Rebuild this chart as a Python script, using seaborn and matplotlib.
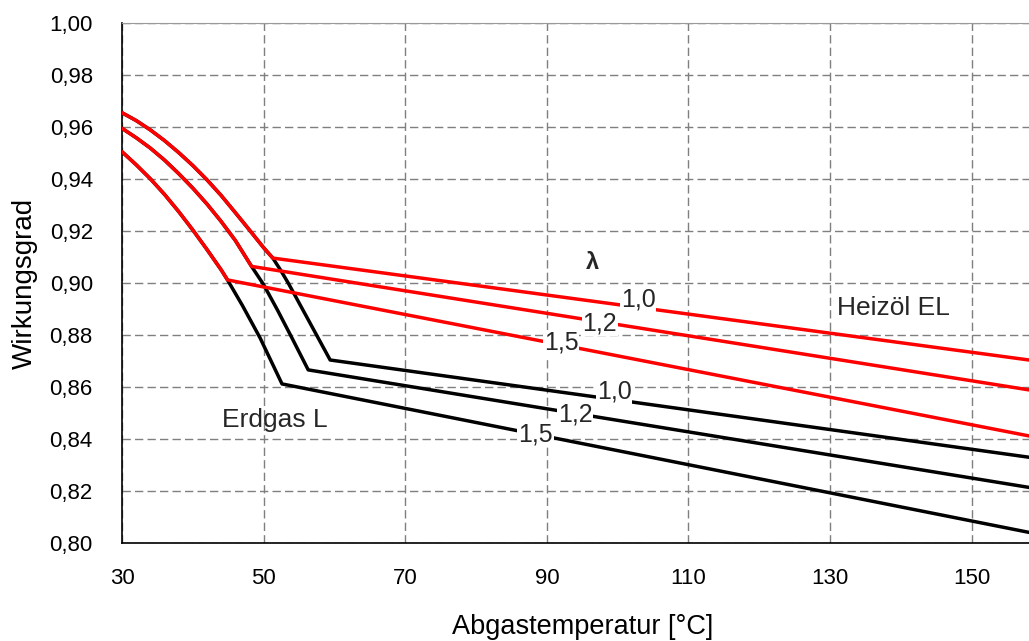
import matplotlib
matplotlib.use("Agg")
import matplotlib.pyplot as plt
import seaborn as sns
import pandas as pd

# ---------------- data ----------------
# Erdgas L (black)
T_gas_10 = [30, 32, 34, 36, 38, 40, 42, 44, 46, 48, 50, 51.3, 52.3, 53.5, 55.5, 57.5, 59.4, 158.1]
eta_gas_10 = [0.9656, 0.9626, 0.9590, 0.9549, 0.9503, 0.9453, 0.9398, 0.9338, 0.9272,
              0.9205, 0.9137, 0.9097, 0.9055, 0.9000, 0.8900, 0.8800, 0.8705, 0.8331]
T_gas_12 = [30, 32, 34, 36, 38, 40, 42, 44, 46, 48.3, 50, 52, 54, 56.3, 158.1]
eta_gas_12 = [0.9596, 0.9560, 0.9520, 0.9474, 0.9422, 0.9366, 0.9305, 0.9238, 0.9165,
              0.9065, 0.8995, 0.8895, 0.8790, 0.8667, 0.8215]
T_gas_15 = [30, 32, 34, 36, 38, 40, 42, 44, 44.9, 47, 49.5, 52.6, 158.1]
eta_gas_15 = [0.9506, 0.9456, 0.9402, 0.9342, 0.9276, 0.9205, 0.9130, 0.9052, 0.9013,
              0.8915, 0.8790, 0.8613, 0.8042]

# Heizoel EL (red)
T_oil_10 = [30, 32, 34, 36, 38, 40, 42, 44, 46, 48, 50, 51.3, 158.1]
eta_oil_10 = [0.9656, 0.9626, 0.9590, 0.9549, 0.9503, 0.9453, 0.9398, 0.9338, 0.9272,
              0.9205, 0.9137, 0.9097, 0.8705]
T_oil_12 = [30, 32, 34, 36, 38, 40, 42, 44, 46, 48.3, 158.1]
eta_oil_12 = [0.9596, 0.9560, 0.9520, 0.9474, 0.9422, 0.9366, 0.9305, 0.9238, 0.9165,
              0.9065, 0.8590]
T_oil_15 = [30, 32, 34, 36, 38, 40, 42, 44, 44.9, 158.1]
eta_oil_15 = [0.9506, 0.9456, 0.9402, 0.9342, 0.9276, 0.9205, 0.9130, 0.9052, 0.9013,
              0.8413]

lambda_labels = ["1,0", "1,2", "1,5"]
oil_label_x = [102.9, 97.5, 92.0]
oil_label_y = [0.8910, 0.8820, 0.8744]
gas_label_x = [99.5, 94.0, 88.4]
gas_label_y = [0.8558, 0.8468, 0.8391]

x_ticks = [30, 50, 70, 90, 110, 130, 150]
y_ticks = [0.80, 0.82, 0.84, 0.86, 0.88, 0.90, 0.92, 0.94, 0.96, 0.98, 1.00]
y_tick_labels = [f"{v:.2f}".replace(".", ",") for v in y_ticks]

# ---------------- style ----------------
sns.set_theme(style="white")
plt.rcParams["font.family"] = ["Liberation Sans", "DejaVu Sans"]

fig = plt.figure(figsize=(10.29, 6.41), dpi=100)
ax = fig.add_axes([122 / 1029, (641 - 543.3) / 641, (1029 - 122) / 1029, (543.3 - 23.3) / 641])

gas_series = [(T_gas_10, eta_gas_10), (T_gas_12, eta_gas_12), (T_gas_15, eta_gas_15)]
oil_series = [(T_oil_10, eta_oil_10), (T_oil_12, eta_oil_12), (T_oil_15, eta_oil_15)]

for T, eta in gas_series:
    df = pd.DataFrame({"T": T, "eta": eta})
    sns.lineplot(data=df, x="T", y="eta", color="black", lw=2.5,
                 estimator=None, sort=False, ax=ax, zorder=3)
for T, eta in oil_series:
    df = pd.DataFrame({"T": T, "eta": eta})
    sns.lineplot(data=df, x="T", y="eta", color="#ff0000", lw=2.5,
                 estimator=None, sort=False, ax=ax, zorder=4)

ax.set_xlim(30, 158.1)
ax.set_ylim(0.80, 1.00)
ax.set_xticks(x_ticks)
ax.set_xticklabels([str(v) for v in x_ticks], fontsize=16)
ax.set_yticks(y_ticks)
ax.set_yticklabels(y_tick_labels, fontsize=16)

ax.grid(True, which="major", color="#7f7f7f", linestyle=(0, (6, 3)), linewidth=1.0)
ax.set_axisbelow(True)

ax.spines["right"].set_visible(False)
ax.spines["top"].set_color("#9a9a9a")
ax.spines["top"].set_linewidth(0.8)
ax.spines["left"].set_color("black")
ax.spines["bottom"].set_color("black")
ax.spines["left"].set_linewidth(1.2)
ax.spines["bottom"].set_linewidth(1.2)

ax.tick_params(axis="both", direction="out", length=6, width=1, color="black",
               labelcolor="black")
ax.tick_params(axis="y", pad=15)
ax.tick_params(axis="x", pad=12)

ax.set_xlabel("Abgastemperatur [°C]", fontsize=19.5, color="black", labelpad=18)
ax.xaxis.label.set_x((583 - 122) / 907)
ax.set_ylabel("Wirkungsgrad", fontsize=20, color="black", labelpad=8)

bbox = dict(facecolor="white", edgecolor="none", pad=0.5)
for txt, x, y in zip(lambda_labels, oil_label_x, oil_label_y):
    ax.text(x, y, txt, fontsize=18, ha="center", va="baseline", bbox=bbox, zorder=6)
for txt, x, y in zip(lambda_labels, gas_label_x, gas_label_y):
    ax.text(x, y, txt, fontsize=18, ha="center", va="baseline", bbox=bbox, zorder=6)

ax.text(96.5, 0.9054, "λ", fontsize=17, fontweight="bold", ha="center", va="baseline", zorder=6)
ax.text(138.9, 0.8878, "Heizöl EL", fontsize=19, ha="center", va="baseline", zorder=6)
ax.text(51.6, 0.8446, "Erdgas L", fontsize=19, ha="center", va="baseline", zorder=6)

fig.savefig("out.png", dpi=100)
